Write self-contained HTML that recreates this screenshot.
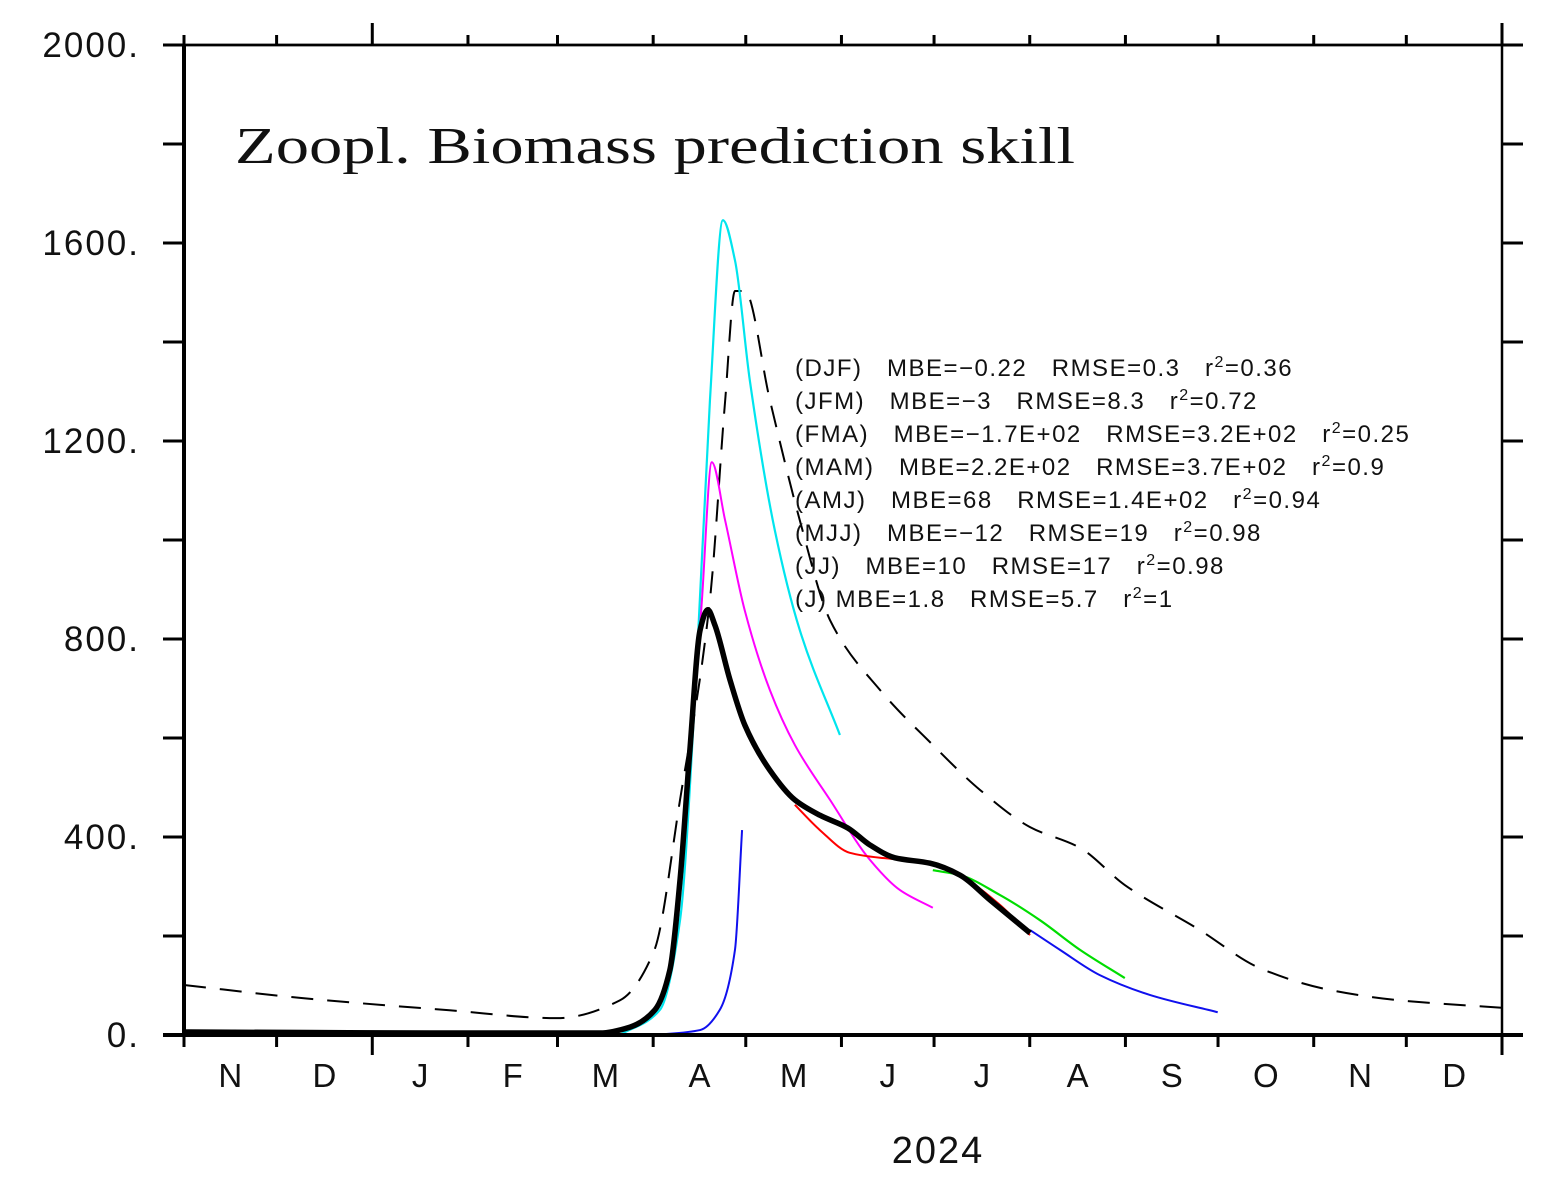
<!DOCTYPE html>
<html><head><meta charset="utf-8"><style>
html,body{margin:0;padding:0;background:#fff;}
svg{display:block;}
text{font-family:"Liberation Sans",sans-serif;fill:#111;}
.st text{white-space:pre;}
</style></head><body>
<svg id="chart" width="1556" height="1182" viewBox="0 0 1556 1182" xmlns="http://www.w3.org/2000/svg">
<rect x="0" y="0" width="1556" height="1182" fill="#fff"/>
<g id="series"></g>
<g id="axes"></g>
<text x="235" y="163" style="font-family:'Liberation Serif',serif;font-size:52px" textLength="840" lengthAdjust="spacingAndGlyphs">Zoopl. Biomass  prediction  skill</text>
<g class="st" style="font-size:24px;letter-spacing:1.5px">
<text xml:space="preserve" x="795" y="376">(DJF)   MBE=−0.22   RMSE=0.3   r<tspan dy="-9" font-size="16">2</tspan><tspan dy="9">=0.36</tspan></text>
<text xml:space="preserve" x="795" y="409">(JFM)   MBE=−3   RMSE=8.3   r<tspan dy="-9" font-size="16">2</tspan><tspan dy="9">=0.72</tspan></text>
<text xml:space="preserve" x="795" y="442">(FMA)   MBE=−1.7E+02   RMSE=3.2E+02   r<tspan dy="-9" font-size="16">2</tspan><tspan dy="9">=0.25</tspan></text>
<text xml:space="preserve" x="795" y="475">(MAM)   MBE=2.2E+02   RMSE=3.7E+02   r<tspan dy="-9" font-size="16">2</tspan><tspan dy="9">=0.9</tspan></text>
<text xml:space="preserve" x="795" y="508">(AMJ)   MBE=68   RMSE=1.4E+02   r<tspan dy="-9" font-size="16">2</tspan><tspan dy="9">=0.94</tspan></text>
<text xml:space="preserve" x="795" y="541">(MJJ)   MBE=−12   RMSE=19   r<tspan dy="-9" font-size="16">2</tspan><tspan dy="9">=0.98</tspan></text>
<text xml:space="preserve" x="795" y="574">(JJ)   MBE=10   RMSE=17   r<tspan dy="-9" font-size="16">2</tspan><tspan dy="9">=0.98</tspan></text>
<text xml:space="preserve" x="795" y="607">(J) MBE=1.8   RMSE=5.7   r<tspan dy="-9" font-size="16">2</tspan><tspan dy="9">=1</tspan></text>
</g>
<text x="938" y="1163" text-anchor="middle" style="font-size:38px;letter-spacing:2px">2024</text>
</svg>
<script>
// Days since 1 Nov 2023 ; values
const monthLabels = ["N","D","J","F","M","A","M","J","J","A","S","O","N","D"];
const monthStartDays = [0,30,61,92,121,152,182,213,243,274,305,335,366,396,427];
const yTickLabels = ["0.","400.","800.","1200.","1600.","2000."];
const yTickValues = [0,400,800,1200,1600,2000];

const climDays = [0,37.6,86,120.8,141.2,152.3,160.7,170.4,175.3,178.5,181.7,189.8,199.5,209.3,225.5,242.6,257.9,274.1,290.3,304.8,329.1,348.6,371.2,393.9,427];
const climVals = [101,75,50,34,70,170,475,880,1280,1503,1503,1283,1040,838,697,586,495,420,378,303,212,135,91,70,55];
const obsDays = [0,40,80,110,134.8,144.5,152.6,157.4,160.7,163.9,167.2,169.7,172.0,176.9,181.7,189.8,197.9,206.0,215.1,222.2,230.3,241.7,251.4,261.1,274.1];
const obsVals = [6,5,4,4,4,16,51,131,313,576,818,859,828,717,626,535,475,444,418,384,358,347,323,273,206];
const cyanDays = [141.2,154.2,160.7,165.5,170.4,174.6,178.5,183.3,191.4,199.5,212.5];
const cyanVals = [0,51,232,677,1283,1646,1565,1323,1020,818,606];
const magDays = [165.5,167.8,171.0,175.3,181.7,189.8,197.9,209.3,222.2,231.9,242.6];
const magVals = [677,879,1157,1040,857,697,586,475,354,293,257];
const redDays = [197.9,206,215.7,225.5,241.7,251.4,264.3,274.1];
const redVals = [465,414,368,358,350,323,263,202];
const greenDays = [242.6,251.4,264.3,277.3,290.3,304.8];
const greenVals = [333,323,283,232,172,115];
const blue1Days = [152.3,167.2,173.6,178.5,180.8];
const blue1Vals = [0,10,51,172,414];
const blue2Days = [274.1,283.8,296.7,312.9,334.9];
const blue2Vals = [212,172,121,81,46];

const X0=184,X1=1502,Y0=1035,Y1=45;
function xS(d){return X0+(d/427)*(X1-X0);}
function yS(v){return Y0-(v/2000)*(Y0-Y1);}
const NS="http://www.w3.org/2000/svg";
function mk(tag,attrs,parent){const e=document.createElementNS(NS,tag);for(const k in attrs)e.setAttribute(k,attrs[k]);parent.appendChild(e);return e;}
// monotone cubic (Fritsch-Carlson)
function smoothPath(ds,vs){
  const x=ds.map(xS),y=vs.map(yS),n=x.length;
  const dl=[],m=[];
  for(let i=0;i<n-1;i++)dl.push((y[i+1]-y[i])/(x[i+1]-x[i]));
  m[0]=dl[0];m[n-1]=dl[n-2];
  for(let i=1;i<n-1;i++){
    if(dl[i-1]*dl[i]<=0)m[i]=0;
    else{const w1=2*(x[i+1]-x[i])+(x[i]-x[i-1]),w2=(x[i+1]-x[i])+2*(x[i]-x[i-1]);m[i]=(w1+w2)/(w1/dl[i-1]+w2/dl[i]);}
  }
  let s="M"+x[0]+","+y[0];
  for(let i=0;i<n-1;i++){
    const h=(x[i+1]-x[i])/3;
    s+=" C"+(x[i]+h)+","+(y[i]+m[i]*h)+" "+(x[i+1]-h)+","+(y[i+1]-m[i+1]*h)+" "+x[i+1]+","+y[i+1];
  }
  return s;
}
const sg=document.getElementById("series");
function line(ds,vs,color,w,dash,name){
  const e=mk("path",{d:smoothPath(ds,vs),fill:"none",stroke:color,"stroke-width":w,"stroke-linejoin":"round"},sg);
  if(dash)e.setAttribute("stroke-dasharray",dash);
  
  
}
line(climDays,climVals,"#000",2,"22,14","climatology-dashed-line");
line(cyanDays,cyanVals,"#00e5ee",2.2,null,"forecast-cyan-line");
line(magDays,magVals,"#ff00ff",2,null,"forecast-magenta-line");
line(blue1Days,blue1Vals,"#1010ee",2,null,"forecast-blue-early-line");
line(blue2Days,blue2Vals,"#1010ee",2,null,"forecast-blue-late-line");
line(greenDays,greenVals,"#00dd00",2.2,null,"forecast-green-line");
line(redDays,redVals,"#ff0000",2,null,"forecast-red-line");
line(obsDays,obsVals,"#000",5.5,null,"observed-thick-line");

const ag=document.getElementById("axes");
const frame=mk("rect",{x:X0,y:Y1,width:X1-X0,height:Y0-Y1,fill:"none",stroke:"#000","stroke-width":2.5},ag);


mk("line",{x1:X0,y1:Y1,x2:X0,y2:Y0,stroke:"#000","stroke-width":4},ag);
mk("line",{x1:163,y1:Y0,x2:1523,y2:Y0,stroke:"#000","stroke-width":4},ag);
mk("line",{x1:163,y1:Y1,x2:1523,y2:Y1,stroke:"#000","stroke-width":2.5},ag);
for(let v=0;v<=2000;v+=200){
  const y=yS(v);
  mk("line",{x1:163,y1:y,x2:X0,y2:y,stroke:"#000","stroke-width":3},ag);
  mk("line",{x1:X1,y1:y,x2:1523,y2:y,stroke:"#000","stroke-width":3},ag);
}
yTickValues.forEach((v,i)=>{
  const t=mk("text",{x:140,y:yS(v)+12,"text-anchor":"end","font-size":"35","letter-spacing":"2"},ag);
  t.textContent=yTickLabels[i];
  
  
});
monthStartDays.forEach((d,i)=>{
  const x=xS(d);
  const big=(d===61||d===427);
  mk("line",{x1:x,y1:Y0,x2:x,y2:Y0+(big?20:12),stroke:"#000","stroke-width":3},ag);
  mk("line",{x1:x,y1:Y1,x2:x,y2:Y1-(big?22:10),stroke:"#000","stroke-width":3},ag);
});
monthLabels.forEach((m,i)=>{
  const x=(xS(monthStartDays[i])+xS(monthStartDays[i+1]))/2;
  const t=mk("text",{x:x,y:1087,"text-anchor":"middle","font-size":"33"},ag);
  t.textContent=m;
  
  
});
</script>
</body></html>
